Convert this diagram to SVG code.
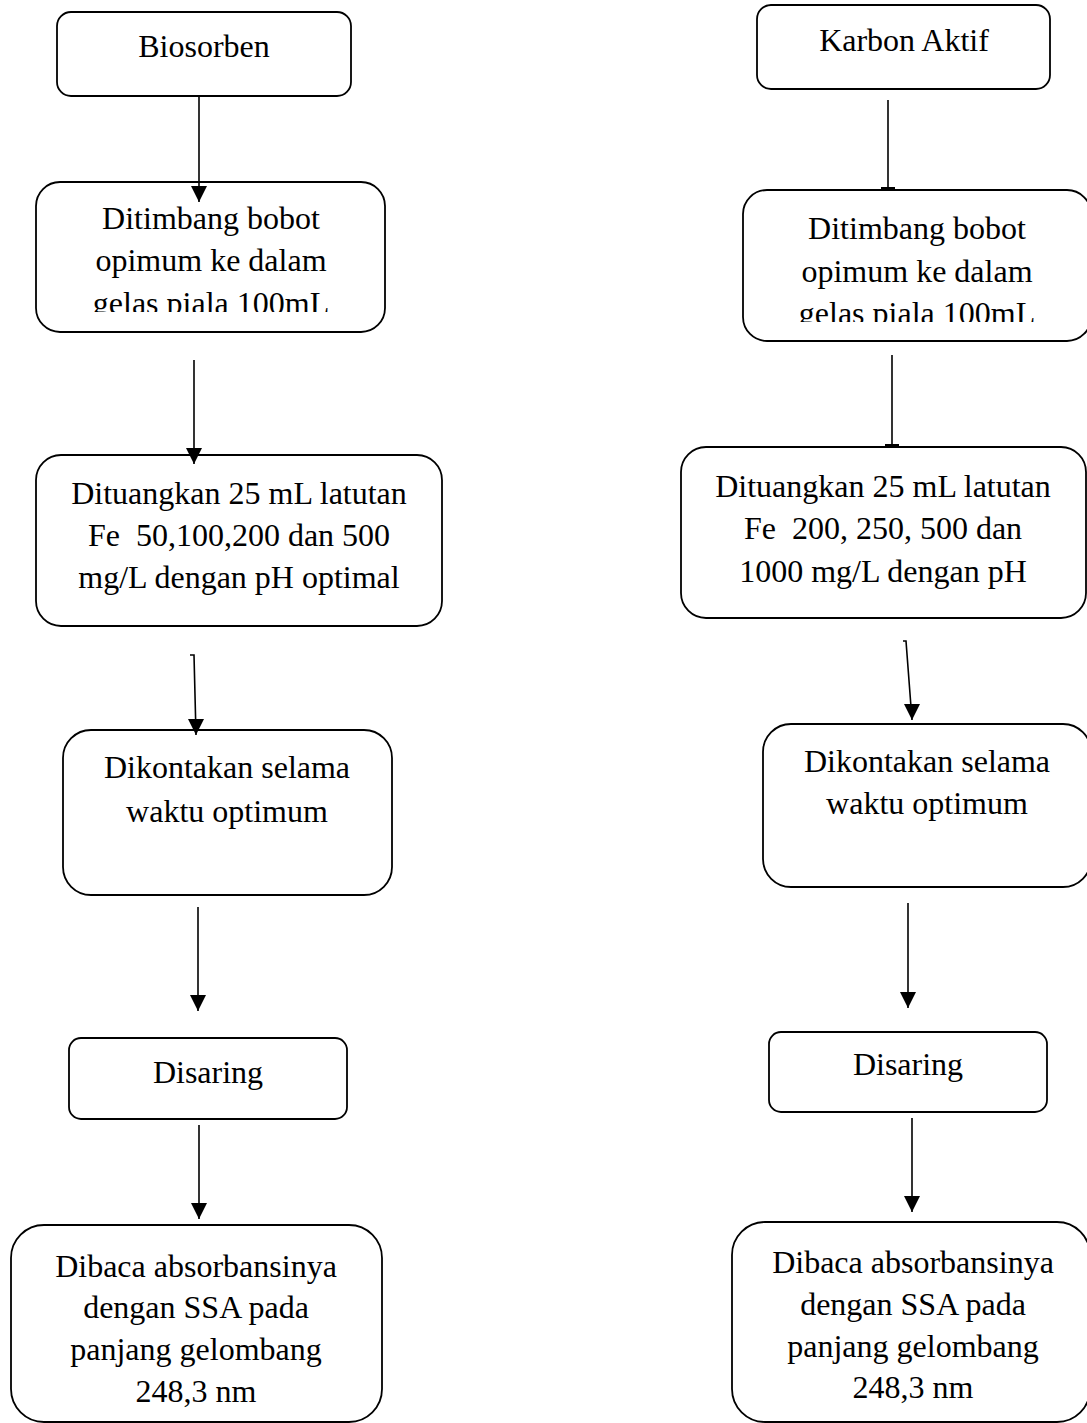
<svg xmlns="http://www.w3.org/2000/svg" width="1087" height="1423" viewBox="0 0 1087 1423">
<style>
.box{fill:#fff;stroke:#000;stroke-width:1.8}
.t{font-family:"Liberation Serif","Times New Roman",serif;font-size:32px;fill:#000;text-anchor:middle}
.c{fill:none;stroke:#000;stroke-width:1.6}
</style>
<defs>
<marker id="ah" markerUnits="userSpaceOnUse" markerWidth="18" markerHeight="18" viewBox="0 0 18 18" refX="9" refY="16" orient="0">
<path d="M1,0 L17,0 L9,16 Z" fill="#000"/>
</marker>
<marker id="tick" markerUnits="userSpaceOnUse" markerWidth="16" markerHeight="4" viewBox="0 0 16 4" refX="8" refY="3" orient="0">
<path d="M1,0 L15,0 L15,3 L1,3 Z" fill="#000"/>
</marker>
<clipPath id="clipL2"><rect x="0" y="0" width="1087" height="312"/></clipPath>
<clipPath id="clipR2"><rect x="0" y="0" width="1087" height="322"/></clipPath>
</defs>
<rect width="1087" height="1423" fill="#fff"/>

<g id="n-biosorben">
<rect class="box" x="57" y="12" width="294" height="84" rx="14"/>
<text class="t" x="204" y="57">Biosorben</text>
</g>
<g id="n-ditimbang-l">
<rect class="box" x="36" y="182" width="349" height="150" rx="24"/>
<text class="t" x="211" y="229">Ditimbang bobot</text>
<text class="t" x="211" y="271">opimum ke dalam</text>
<text class="t" x="211" y="314" clip-path="url(#clipL2)">gelas piala 100mL</text>
</g>
<g id="n-dituangkan-l">
<rect class="box" x="36" y="455" width="406" height="171" rx="25"/>
<text class="t" x="239" y="504">Dituangkan 25 mL latutan</text>
<text class="t" x="239" y="546" xml:space="preserve">Fe  50,100,200 dan 500</text>
<text class="t" x="239" y="588">mg/L dengan pH optimal</text>
</g>
<g id="n-dikontakan-l">
<rect class="box" x="63" y="730" width="329" height="165" rx="28"/>
<text class="t" x="227" y="778">Dikontakan selama</text>
<text class="t" x="227" y="822">waktu optimum</text>
</g>
<g id="n-disaring-l">
<rect class="box" x="69" y="1038" width="278" height="81" rx="12"/>
<text class="t" x="208" y="1083">Disaring</text>
</g>
<g id="n-dibaca-l">
<rect class="box" x="11" y="1225" width="371" height="197" rx="33"/>
<text class="t" x="196" y="1277">Dibaca absorbansinya</text>
<text class="t" x="196" y="1318">dengan SSA pada</text>
<text class="t" x="196" y="1360">panjang gelombang</text>
<text class="t" x="196" y="1402">248,3 nm</text>
</g>

<g id="n-karbon">
<rect class="box" x="757" y="5" width="293" height="84" rx="14"/>
<text class="t" x="904" y="51">Karbon Aktif</text>
</g>
<g id="n-ditimbang-r">
<rect class="box" x="743" y="190" width="348" height="151" rx="24"/>
<text class="t" x="917" y="239">Ditimbang bobot</text>
<text class="t" x="917" y="282">opimum ke dalam</text>
<text class="t" x="917" y="324" clip-path="url(#clipR2)">gelas piala 100mL</text>
</g>
<g id="n-dituangkan-r">
<rect class="box" x="681" y="447" width="405" height="171" rx="25"/>
<text class="t" x="883" y="497">Dituangkan 25 mL latutan</text>
<text class="t" x="883" y="539" xml:space="preserve">Fe  200, 250, 500 dan</text>
<text class="t" x="883" y="582">1000 mg/L dengan pH</text>
</g>
<g id="n-dikontakan-r">
<rect class="box" x="763" y="724" width="328" height="163" rx="28"/>
<text class="t" x="927" y="772">Dikontakan selama</text>
<text class="t" x="927" y="814">waktu optimum</text>
</g>
<g id="n-disaring-r">
<rect class="box" x="769" y="1032" width="278" height="80" rx="12"/>
<text class="t" x="908" y="1075">Disaring</text>
</g>
<g id="n-dibaca-r">
<rect class="box" x="732" y="1222" width="358" height="200" rx="33"/>
<text class="t" x="913" y="1273">Dibaca absorbansinya</text>
<text class="t" x="913" y="1315">dengan SSA pada</text>
<text class="t" x="913" y="1357">panjang gelombang</text>
<text class="t" x="913" y="1398">248,3 nm</text>
</g>

<g id="connectors">
<path class="c" d="M199,97 L199,202" marker-end="url(#ah)"/>
<path class="c" d="M194,360 L194,464" marker-end="url(#ah)"/>
<path class="c" d="M190,655 L194,655 L196,735" marker-end="url(#ah)"/>
<path class="c" d="M198,907 L198,1011" marker-end="url(#ah)"/>
<path class="c" d="M199,1125 L199,1219" marker-end="url(#ah)"/>
<path class="c" d="M888,100 L888,190" marker-end="url(#tick)"/>
<path class="c" d="M892,355 L892,447" marker-end="url(#tick)"/>
<path class="c" d="M903,641 L906,641 L912,720" marker-end="url(#ah)"/>
<path class="c" d="M908,903 L908,1008" marker-end="url(#ah)"/>
<path class="c" d="M912,1118 L912,1212" marker-end="url(#ah)"/>
</g>
</svg>
